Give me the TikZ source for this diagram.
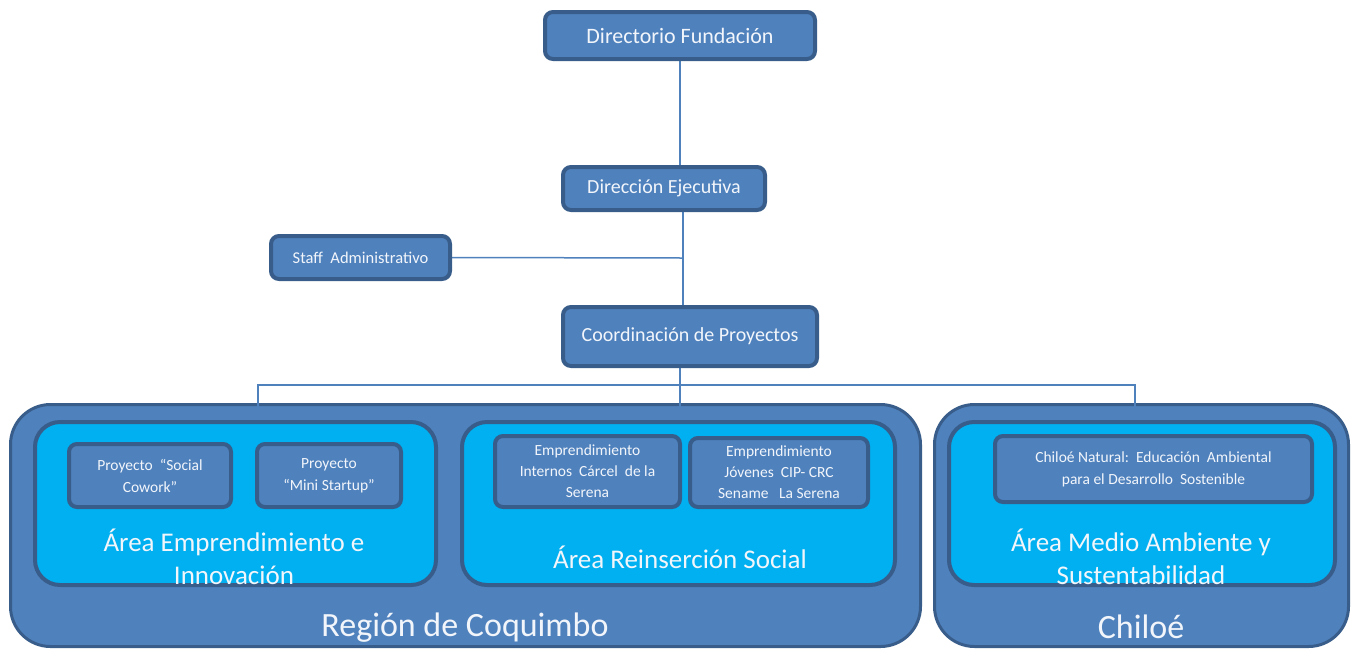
\documentclass[tikz,border=0pt]{standalone}
\usepackage{fontspec}
\setmainfont{Carlito}
\usetikzlibrary{backgrounds}
\definecolor{boxfill}{HTML}{4F81BD}
\definecolor{boxedge}{HTML}{385D8A}
\definecolor{areafill}{HTML}{00B0F0}
\definecolor{txt}{HTML}{F2F6FB}
\begin{document}
\begin{tikzpicture}[x=1pt,y=-1pt,
  orgbox/.style={draw=boxedge, line width=4pt, fill=boxfill, rounded corners=8pt, text=txt, align=center, inner sep=0pt},
  projbox/.style={orgbox, font=\fontsize{15.5}{22}\selectfont},
  outerbox/.style={draw=boxedge, line width=3pt, fill=boxfill, rounded corners=40pt, inner sep=0pt},
  areabox/.style={draw=boxedge, line width=4pt, fill=areafill, rounded corners=25pt, inner sep=0pt},
  arealabel/.style={text=txt, align=center, font=\fontsize{27}{33}\selectfont, inner sep=0pt},
  reglabel/.style={text=txt, font=\fontsize{34}{38}\selectfont, inner sep=0pt},
  conn/.style={draw=boxfill, line width=1.5pt}]
\useasboundingbox (0,0) rectangle (1353,649);
% top boxes
\node[orgbox, minimum width=270pt, minimum height=47pt, font=\fontsize{22}{25}\selectfont] (dir) at (680,35.5) {Directorio Fundación};
\node[orgbox, minimum width=202pt, minimum height=43pt, font=\fontsize{20}{23}\selectfont] (ejec) at (664,188.5) {Dirección Ejecutiva};
\node[orgbox, minimum width=179pt, minimum height=43pt, font=\fontsize{16.5}{19}\selectfont] (staff) at (360.5,257.5) {Staff\ \ Administrativo};
\node[orgbox, minimum width=254pt, minimum height=59pt, font=\fontsize{20}{23}\selectfont] (coordp) at (690,336.5) {Coordinación de Proyectos};
% areas
\node[areabox, minimum width=401pt, minimum height=163pt] (area1) at (235.5,503.5) {};
\node[areabox, minimum width=433pt, minimum height=163pt] (area2) at (678.5,503.5) {};
\node[areabox, minimum width=386pt, minimum height=163pt] (area3) at (1142,503.5) {};
\node[arealabel] (l1) at (234,557) {Área Emprendimiento e\\Innovación};
\node[arealabel] (l2) at (680,557) {Área Reinserción Social};
\node[arealabel] (l3) at (1141,557) {Área Medio Ambiente y\\Sustentabilidad};
% projects
\node[projbox, minimum width=162pt, minimum height=63pt] (p1) at (150,475.5) {Proyecto\ \ “Social\\Cowork”};
\node[projbox, minimum width=144pt, minimum height=63pt] (p2) at (329,475.5) {Proyecto\\“Mini Startup”};
\node[projbox, minimum width=185pt, minimum height=71pt, font=\fontsize{15.5}{21}\selectfont] (p3) at (587.5,471.5) {Emprendimiento\\Internos\ \ Cárcel\ \ de la\\Serena};
\node[projbox, minimum width=178pt, minimum height=69pt, font=\fontsize{15.5}{21}\selectfont] (p4) at (779,472.5) {Emprendimiento\\Jóvenes\ \ CIP- CRC\\Sename\ \ \ La Serena};
\node[projbox, minimum width=317pt, minimum height=66pt] (p5) at (1153.5,469) {Chiloé Natural:\ \ Educación\ \ Ambiental\\para el Desarrollo\ \ Sostenible};
% junction points
\coordinate (j1) at (683,258);
\coordinate (bus) at (680,385);
\coordinate (b1) at (258,385);
\coordinate (b3) at (1135,385);
\begin{scope}[on background layer]
  % outer regions
  \node[outerbox, minimum width=910pt, minimum height=242pt] (coq) at (465.5,525.5) {};
  \node[outerbox, minimum width=414pt, minimum height=242pt] (chi) at (1141.5,525.5) {};
  \node[reglabel] (coqlab) at (465,628) {Región de Coquimbo};
  \node[reglabel] (chilab) at (1141,627) {Chiloé};
  % connectors
  \draw[conn] (dir.south) -- (dir.south |- ejec.north);
  \draw[conn] (ejec.south -| j1) -- (coordp.north -| j1);
  \draw[conn] (staff.east) -- (j1);
  \draw[conn] (coordp.south -| bus) -- (bus);
  \draw[conn] (area1.north -| b1) -- (b1) -- (b3) -- (area3.north -| b3);
  \draw[conn] (bus) -- (area2.north -| bus);
\end{scope}
\end{tikzpicture}
\end{document}
